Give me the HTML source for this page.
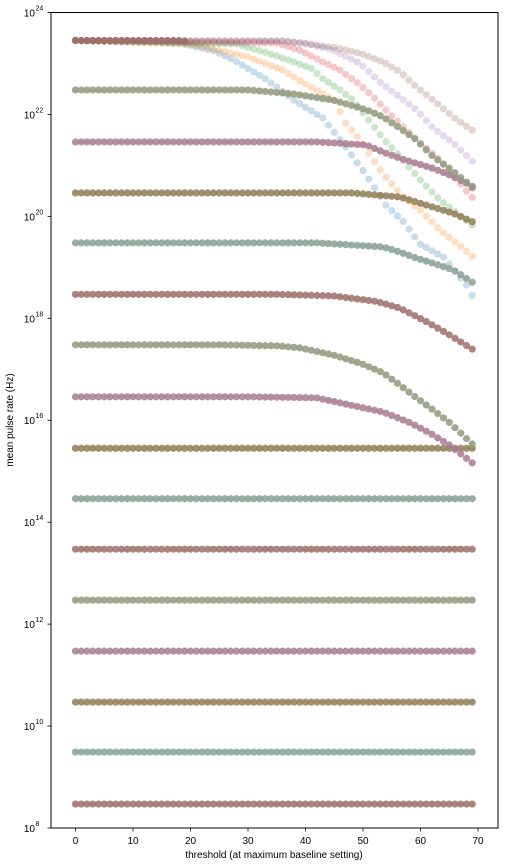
<!DOCTYPE html>
<html><head><meta charset="utf-8"><style>
body{margin:0;background:#fff}
svg{display:block;font-family:"Liberation Sans","DejaVu Sans",sans-serif}
</style></head><body>
<svg id="chartSvg" width="508" height="866" viewBox="0 0 508 866">
<g id="marksLayer"></g>
<g id="axesLayer"></g>
</svg>
<script>
// ---- data ----
const xTicks = [0,10,20,30,40,50,60,70];
const yTickExps = [8,10,12,14,16,18,20,22,24];
// log10 of flat level for each row (bottom to top)
const rowLevels = [8.47,9.49,10.47,11.47,12.47,13.47,14.46,15.45,16.46,17.48,18.47,19.48,20.46,21.46,22.48,23.45];
const rowColors = ['#9c6e6a','#86a095','#8f7d55','#a87a8f','#8f9a7c','#9c6e6a','#86a095','#8f7d55','#a87a8f','#8f9a7c','#9c6e6a','#86a095','#8f7d55','#a87a8f','#8f9a7c','#9c6e6a'];
// rows that droop, with knots (x, log10 rate)
const droopRows = [8,9,10,11,12,13,14,15];
const droopX = [
 [0,30,41.9,47.7,53.5,58.2,61.6,65.1,69.5],
 [0,25,35,39,44.8,49.5,53.5,56.4,59.3,62.2,65.1,69.5],
 [0,35,44.8,52.4,56.4,61.1,65.1,69.5],
 [0,42,53.5,56.4,59.3,62.2,65.7,69.5],
 [0,48,56.4,62.2,65.7,69.5],
 [0,42,50.6,53.5,56.4,59.3,62.2,65.1,68,69.5],
 [0,30,38,44.8,50.6,53.5,56.4,59.3,62.2,65.1,68,69.5],
 [0,18,20]
];
const droopL = [
 [16.46,16.46,16.44,16.3,16.16,15.95,15.75,15.51,15.12],
 [17.48,17.48,17.46,17.42,17.28,17.12,16.93,16.69,16.44,16.2,15.95,15.48],
 [18.47,18.47,18.44,18.33,18.2,17.93,17.67,17.36],
 [19.48,19.48,19.4,19.3,19.18,19.08,18.95,18.67],
 [20.46,20.46,20.38,20.18,20.06,19.87],
 [21.46,21.46,21.4,21.26,21.14,21.04,20.94,20.81,20.65,20.52],
 [22.48,22.48,22.4,22.28,22.09,21.95,21.73,21.5,21.17,20.94,20.67,20.55],
 [23.45,23.45,23.42]
];
// top row faint per-series curves
const seriesColors = ['#1f77b4','#ff7f0e','#2ca02c','#d62728','#9467bd','#8c564b'];
const topX = [
 [0,18,24,27.5,33,38,43,47,50,54,57,60,64,68,69],
 [0,20,30,36,39,45,47,49.5,52.4,54.2,57,60,63.4,67.3,69],
 [0,28,33,38,41,43,46,48.3,50.6,53.5,56.4,60.5,63.4,69],
 [0,35,39,43,46,49.5,52.4,53.5,59.3,63.4,69],
 [0,36,40,44.8,49.5,52.9,56.4,59.3,62.2,65.7,69.5],
 [0,36,44.8,49.5,53.5,56.4,59.3,62.2,65.7,69.5]
];
const topL = [
 [23.45,23.4,23.25,23.07,22.7,22.28,21.93,21.36,20.9,20.22,19.9,19.45,19.2,18.65,18.45],
 [23.45,23.38,23.13,22.87,22.66,22.28,21.83,21.5,21.0,20.74,20.38,20.12,19.73,19.38,19.22],
 [23.45,23.38,23.22,23.03,22.9,22.7,22.48,22.28,21.95,21.53,21.17,20.65,20.32,19.83],
 [23.45,23.4,23.26,23.03,22.87,22.58,22.28,22.14,21.5,21.1,20.37],
 [23.45,23.44,23.4,23.26,23.0,22.64,22.34,22.09,21.73,21.44,21.03],
 [23.45,23.44,23.32,23.2,23.03,22.84,22.54,22.28,21.95,21.65]
];
const nPoints = 70;

// ---- axes functions ----
const X0=75.5, XS=5.75, YB=828, YS=50.97;
function sx(x){ return X0 + x*XS; }
function sy(L){ return YB - (L-8)*YS; }
function valAt(xs, ls, x){
  if (x<=xs[0]) return ls[0];
  for (let i=1;i<xs.length;i++){ if (x<=xs[i]){ const t=(x-xs[i-1])/(xs[i]-xs[i-1]); return ls[i-1]+t*(ls[i]-ls[i-1]); } }
  return ls[ls.length-1];
}
const SVGNS='http://www.w3.org/2000/svg';
const axesG=document.getElementById('axesLayer');
const marksG=document.getElementById('marksLayer');
function mk(tag,attrs,text){const e=document.createElementNS(SVGNS,tag);for(const a in attrs)e.setAttribute(a,attrs[a]);if(text!==undefined)e.textContent=text;axesG.appendChild(e);return e;}

const frame=mk('rect',{x:51,y:12.5,width:447,height:815.5,fill:'none',stroke:'#000','stroke-width':1});


xTicks.forEach(function(t){
  const l=mk('line',{x1:sx(t),x2:sx(t),y1:828,y2:831.5,stroke:'#000','stroke-width':0.8});
  
  
  const tx=mk('text',{x:sx(t),y:844,'font-size':10,'text-anchor':'middle',fill:'#000'},String(t));
  
  
});
yTickExps.forEach(function(e){
  const y=sy(e);
  const l=mk('line',{x1:47.5,x2:51,y1:y,y2:y,stroke:'#000','stroke-width':0.8});
  
  
  const tx=mk('text',{x:35,y:y+4,'font-size':10,'text-anchor':'end',fill:'#000'},'10');
  
  
  const sp=mk('text',{x:35.5,y:y-2,'font-size':7,'text-anchor':'start',fill:'#000'},String(e));
  
  
});
const xl=mk('text',{x:274,y:858,'font-size':10,'text-anchor':'middle',fill:'#000'},'threshold (at maximum baseline setting)');


const yl=mk('text',{x:0,y:0,'font-size':10,'text-anchor':'middle',fill:'#000',transform:'translate(13,420) rotate(-90)'},'mean pulse rate (Hz)');



function dot(parent,x,L,color,op){
  const c=document.createElementNS(SVGNS,'circle');
  c.setAttribute('cx',sx(x).toFixed(2));
  c.setAttribute('cy',sy(L).toFixed(2));
  c.setAttribute('r',3.6);
  c.setAttribute('fill',color);
  c.setAttribute('fill-opacity',op);
  
  
  parent.appendChild(c);
}
seriesColors.forEach(function(col,s){
  const g=document.createElementNS(SVGNS,'g');
  
  
  marksG.appendChild(g);
  for(let i=0;i<nPoints;i++) dot(g,i,valAt(topX[s],topL[s],i),col,0.25);
});
rowLevels.forEach(function(lev,r){
  const g=document.createElementNS(SVGNS,'g');
  
  
  marksG.appendChild(g);
  const k=droopRows.indexOf(r);
  const n = (r===15) ? 20 : nPoints;
  for(let i=0;i<n;i++){
    const L = (k>=0) ? valAt(droopX[k],droopL[k],i) : lev;
    dot(g,i,L,rowColors[r],0.85);
  }
});
</script>
</body></html>
